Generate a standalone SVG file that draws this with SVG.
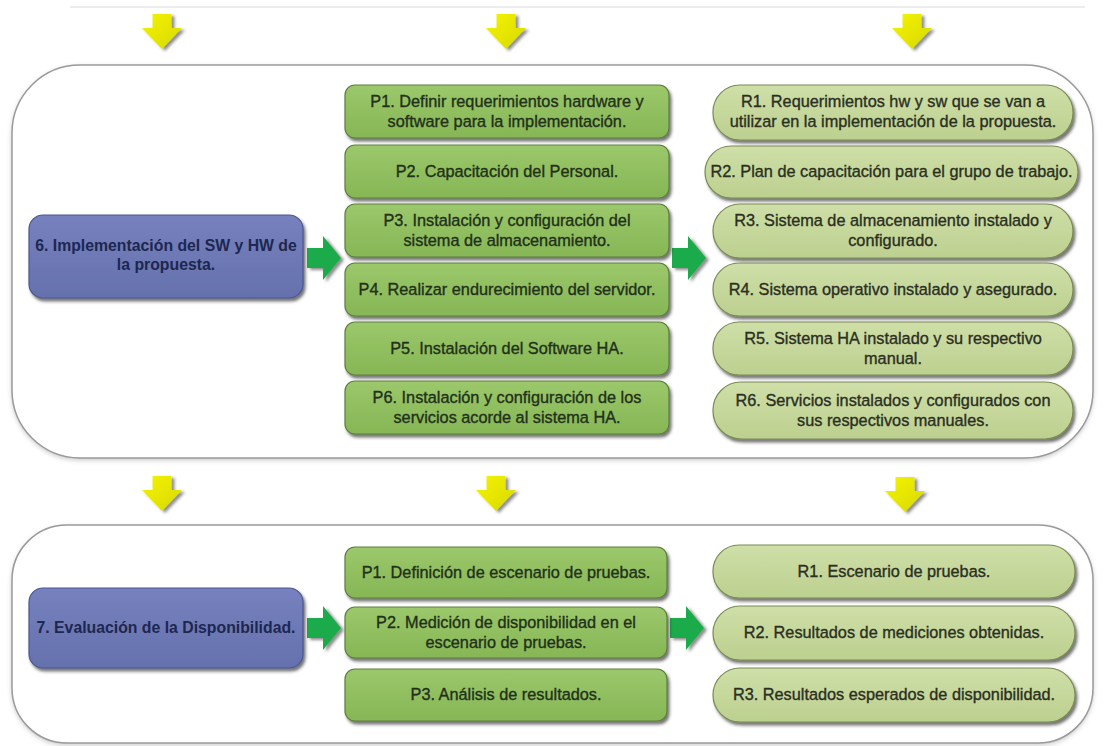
<svg xmlns="http://www.w3.org/2000/svg" width="1104" height="746" viewBox="0 0 1104 746">
<style>
  .frame { fill: #ffffff; stroke: #9a9a9a; stroke-width: 1.5; }
  .pbox { fill: url(#gP); stroke: #5e7d3e; stroke-width: 1.2; filter: url(#sh); }
  .rbox { fill: url(#gR); stroke: #7a8a55; stroke-width: 1.2; filter: url(#sh); }
  .bbox { fill: url(#gB); stroke: #4c5792; stroke-width: 1.2; filter: url(#sh); }
  text { font-family: "Liberation Sans", Arial, sans-serif; font-size: 16.3px; fill: #22301a; stroke: #22301a; stroke-width: 0.35; text-anchor: middle; }
  .rt { fill: #2b2f22; stroke: #2b2f22; }
  .bt { fill: #1d2750; stroke: none; font-size: 15.8px; font-weight: bold; }
  .yarrow { fill: url(#gY); filter: url(#ash); }
  .garrow { fill: #1eab4c; filter: url(#ash); }
</style>
<defs>
  <linearGradient id="gP" x1="0" y1="0" x2="0" y2="1">
    <stop offset="0" stop-color="#9bc86b"/>
    <stop offset="1" stop-color="#86b655"/>
  </linearGradient>
  <linearGradient id="gR" x1="0" y1="0" x2="0" y2="1">
    <stop offset="0" stop-color="#cfdfa8"/>
    <stop offset="1" stop-color="#bcd08f"/>
  </linearGradient>
  <linearGradient id="gB" x1="0" y1="0" x2="0" y2="1">
    <stop offset="0" stop-color="#7681bd"/>
    <stop offset="1" stop-color="#6571ad"/>
  </linearGradient>
  <linearGradient id="gY" x1="0" y1="0" x2="1" y2="1">
    <stop offset="0" stop-color="#f4f400"/>
    <stop offset="1" stop-color="#d8d800"/>
  </linearGradient>
  <filter id="sh" x="-10%" y="-20%" width="125%" height="150%">
    <feDropShadow dx="2" dy="3" stdDeviation="1.4" flood-color="#2a2a2a" flood-opacity="0.65"/>
  </filter>
  <filter id="ash" x="-30%" y="-30%" width="170%" height="170%">
    <feDropShadow dx="3" dy="2" stdDeviation="1.8" flood-color="#333" flood-opacity="0.55"/>
  </filter>
  <filter id="fsh" x="-5%" y="-5%" width="110%" height="115%">
    <feDropShadow dx="0" dy="2" stdDeviation="2" flood-color="#999" flood-opacity="0.45"/>
  </filter>
  <path id="ya" d="M-9.5,-19 L9.5,-19 L9.5,-5 L20,-5 L0,16 L-20,-5 L-9.5,-5 Z"/>
  <path id="ga" d="M-17,-10 L-1,-10 L-1,-22 L17,0 L-1,22 L-1,10 L-17,10 Z"/>
</defs>

<line x1="70" y1="7" x2="1085" y2="7" stroke="#e6e6e6" stroke-width="1.5"/>

<g id="frame-6">
  <rect class="frame" x="12" y="65" width="1081" height="393" rx="68" ry="68" filter="url(#fsh)"/>
</g>
<g id="frame-7">
  <rect class="frame" x="12" y="525" width="1081" height="218" rx="55" ry="55" filter="url(#fsh)"/>
</g>

<g id="connectors">
  <use href="#ya" class="yarrow" x="162" y="33"/>
  <use href="#ya" class="yarrow" x="506" y="33"/>
  <use href="#ya" class="yarrow" x="912" y="33"/>
  <use href="#ya" class="yarrow" x="162" y="495"/>
  <use href="#ya" class="yarrow" x="496" y="495"/>
  <use href="#ya" class="yarrow" x="905" y="496"/>
  <use href="#ga" class="garrow" x="324" y="258"/>
  <use href="#ga" class="garrow" x="689" y="258"/>
  <use href="#ga" class="garrow" x="324" y="628"/>
  <use href="#ga" class="garrow" x="687" y="628"/>
</g>

<g id="n6">
  <rect class="bbox" x="29" y="215" width="274" height="83" rx="14"/>
  <text class="bt" x="166" y="251">6. Implementación del SW y HW de</text>
  <text class="bt" x="166" y="270">la propuesta.</text>
</g>
<g id="n7">
  <rect class="bbox" x="29" y="588" width="274" height="80" rx="14"/>
  <text class="bt" x="166" y="633">7. Evaluación de la Disponibilidad.</text>
</g>

<g id="p1a">
  <rect class="pbox" x="345" y="85" width="324" height="53" rx="10"/>
  <text x="507" y="107">P1. Definir requerimientos hardware y</text>
  <text x="507" y="127">software para la implementación.</text>
</g>
<g id="p2a">
  <rect class="pbox" x="345" y="145" width="324" height="53" rx="10"/>
  <text x="507" y="177">P2. Capacitación del Personal.</text>
</g>
<g id="p3a">
  <rect class="pbox" x="345" y="204" width="324" height="53" rx="10"/>
  <text x="507" y="226">P3. Instalación y configuración del</text>
  <text x="507" y="246">sistema de almacenamiento.</text>
</g>
<g id="p4a">
  <rect class="pbox" x="345" y="263" width="324" height="53" rx="10"/>
  <text x="507" y="295">P4. Realizar endurecimiento del servidor.</text>
</g>
<g id="p5a">
  <rect class="pbox" x="345" y="322" width="324" height="53" rx="10"/>
  <text x="507" y="354">P5. Instalación del Software HA.</text>
</g>
<g id="p6a">
  <rect class="pbox" x="345" y="381" width="324" height="53" rx="10"/>
  <text x="507" y="403">P6. Instalación y configuración de los</text>
  <text x="507" y="423">servicios acorde al sistema HA.</text>
</g>

<g id="r1a">
  <rect class="rbox" x="713" y="85" width="360" height="55" rx="27"/>
  <text class="rt" x="893" y="107">R1. Requerimientos hw y sw que se van a</text>
  <text class="rt" x="893" y="127">utilizar en la implementación de la propuesta.</text>
</g>
<g id="r2a">
  <rect class="rbox" x="705" y="146" width="373" height="52" rx="26"/>
  <text class="rt" x="891.5" y="177">R2. Plan de capacitación para el grupo de trabajo.</text>
</g>
<g id="r3a">
  <rect class="rbox" x="713" y="204" width="360" height="54" rx="27"/>
  <text class="rt" x="893" y="226">R3. Sistema de almacenamiento instalado y</text>
  <text class="rt" x="893" y="246">configurado.</text>
</g>
<g id="r4a">
  <rect class="rbox" x="713" y="263" width="360" height="53" rx="26"/>
  <text class="rt" x="893" y="295">R4. Sistema operativo instalado y asegurado.</text>
</g>
<g id="r5a">
  <rect class="rbox" x="713" y="322" width="360" height="53" rx="26"/>
  <text class="rt" x="893" y="344">R5. Sistema HA instalado y su respectivo</text>
  <text class="rt" x="893" y="364">manual.</text>
</g>
<g id="r6a">
  <rect class="rbox" x="713" y="382" width="360" height="57" rx="28"/>
  <text class="rt" x="893" y="406">R6. Servicios instalados y configurados con</text>
  <text class="rt" x="893" y="426">sus respectivos manuales.</text>
</g>

<g id="p1b">
  <rect class="pbox" x="345" y="547" width="322" height="51" rx="10"/>
  <text x="506" y="578">P1. Definición de escenario de pruebas.</text>
</g>
<g id="p2b">
  <rect class="pbox" x="345" y="607" width="322" height="51" rx="10"/>
  <text x="506" y="628">P2. Medición de disponibilidad en el</text>
  <text x="506" y="648">escenario de pruebas.</text>
</g>
<g id="p3b">
  <rect class="pbox" x="345" y="669" width="322" height="52" rx="10"/>
  <text x="506" y="700">P3. Análisis de resultados.</text>
</g>

<g id="r1b">
  <rect class="rbox" x="713" y="545" width="362" height="53" rx="26"/>
  <text class="rt" x="894" y="577">R1. Escenario de pruebas.</text>
</g>
<g id="r2b">
  <rect class="rbox" x="713" y="606" width="362" height="54" rx="27"/>
  <text class="rt" x="894" y="638">R2. Resultados de mediciones obtenidas.</text>
</g>
<g id="r3b">
  <rect class="rbox" x="713" y="668" width="362" height="54" rx="27"/>
  <text class="rt" x="894" y="700">R3. Resultados esperados de disponibilidad.</text>
</g>
</svg>
